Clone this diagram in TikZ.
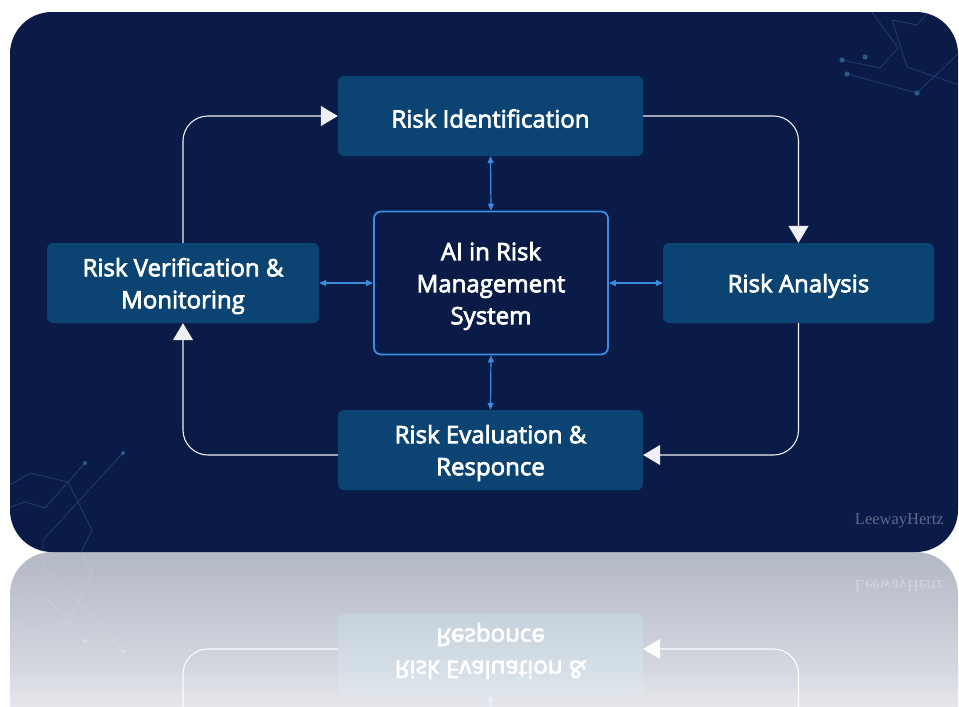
\documentclass[tikz,border=0pt]{standalone}
\usepackage{fontspec}
\setmainfont{Open Sans}
\newfontfamily\boxfont{Open Sans}[FakeBold=3]
\newfontfamily\markfont{Liberation Serif}
\usetikzlibrary{arrows.meta,fadings}

\definecolor{navy}{HTML}{0B1B48}
\definecolor{stepfill}{HTML}{0B4472}
\definecolor{coreblue}{HTML}{3A8EE2}
\definecolor{decoline}{HTML}{223E6E}
\definecolor{decodot}{HTML}{2A5A8C}
\definecolor{marktext}{HTML}{5E6A8C}
\definecolor{flowwhite}{HTML}{EEF0F4}

% fading for the mirrored copy: nearly opaque at the bottom, lighter at the top
\pgfdeclareverticalshading{reflshade}{100bp}{color(0bp)=(white); color(8bp)=(white); color(37bp)=(black!17); color(69bp)=(black!29); color(100bp)=(black!37)}
\pgfdeclarefading{reflfade}{\pgfuseshading{reflshade}}

\tikzset{
  stepbox/.style={fill=stepfill, rounded corners=6pt, inner sep=0pt, minimum height=80pt},
  corebox/.style={draw=coreblue, line width=1.8pt, fill=navy, rounded corners=7pt,
    inner sep=0pt},
  boxtext/.style={text=white, align=center, inner sep=0pt,
    font=\boxfont\fontsize{24}{32}\selectfont},
  flow/.style={draw=flowwhite, line width=1.1pt, rounded corners=25pt,
    -{Triangle[length=17pt,width=20pt]}},
  link/.style={draw=coreblue, line width=1.2pt,
    {Triangle[length=7pt,width=6pt]}-{Triangle[length=7pt,width=6pt]}},
  deco/.style={draw=decoline, line width=0.8pt},
  decodotstyle/.style={fill=decodot},
}

% the whole card: background, ornaments, process boxes and their links
\newcommand\riskcard{%
  \fill[navy, rounded corners=42pt] (10,12) rectangle (958,552);
  \begin{scope}
    \clip[rounded corners=42pt] (10,12) rectangle (958,552);
    % ornament, upper right
    \draw[deco] (872,12) -- (898,48);
    \draw[deco] (892,20) -- (917,25) -- (930,10);
    \draw[deco] (892,20) -- (907,67) -- (959,85);
    \draw[deco] (842,60) -- (880,68) -- (898,48);
    \draw[deco] (847,74) -- (917,93) -- (959,53);
    \fill[decodotstyle] (842,60) circle (2.6);
    \fill[decodotstyle] (865,57) circle (2.6);
    \fill[decodotstyle] (847,74) circle (2.6);
    \fill[decodotstyle] (917,93) circle (2.6);
    % ornament, lower left
    \draw[deco] (5,488) -- (30,473) -- (68,482) -- (92,530) -- (77,560);
    \draw[deco] (5,509) -- (25,502) -- (45,508) -- (85,463);
    \draw[deco] (123,453) -- (43,540) -- (43,560);
    \fill[decodotstyle] (85,463) circle (2);
    \fill[decodotstyle] (123,453) circle (2);
  \end{scope}

  % process boxes
  \node[stepbox, minimum width=305pt] (ident) at (490.5,116) {};
  \node[stepbox, minimum width=272pt] (verif) at (183,283) {};
  \node[stepbox, minimum width=271pt] (anal) at (798.5,283) {};
  \node[stepbox, minimum width=305pt] (evalu) at (490.5,450) {};
  \node[corebox, minimum width=234pt, minimum height=143pt] (core) at (491,283) {};

  % their captions, set a little below the geometric centre
  \node[boxtext] (identtext) at ([yshift=-2.5pt]ident.center) {Risk Identification};
  \node[boxtext] (veriftext) at ([yshift=-3pt]verif.center) {Risk Verification \&\\Monitoring};
  \node[boxtext] (analtext) at ([yshift=-3pt]anal.center) {Risk Analysis};
  \node[boxtext] (evalutext) at ([yshift=-3pt]evalu.center) {Risk Evaluation \&\\Responce};
  \node[boxtext] (coretext) at ([yshift=-3pt]core.center) {AI in Risk\\Management\\System};

  \draw[flow] (verif.north) |- (ident.west);
  \draw[flow] (ident.east) -| (anal.north);
  \draw[flow] (anal.south) |- ([yshift=-5pt]evalu.east);
  \draw[flow] ([yshift=-5pt]evalu.west) -| (verif.south);

  \draw[link] (ident.south) -- (core.north);
  \draw[link] (core.south) -- (evalu.north);
  \draw[link] (verif.east) -- (core.west);
  \draw[link] (core.east) -- (anal.west);

  \node[font=\markfont\fontsize{16.5}{16.5}\selectfont, text=marktext,
    anchor=base east, inner sep=0pt] (brand) at (944,524) {LeewayHertz};
}

\begin{document}
\begin{tikzpicture}[x=1pt,y=-1pt]
  \useasboundingbox (0,0) rectangle (959,707);
  \fill[white] (0,0) rectangle (959,707);

  % mirrored copy under the card
  \begin{scope}
    \clip (0,552) rectangle (959,707);
    \begin{scope}[shift={(0,1104)}, yscale=-1, transform shape, name prefix=mirror-]
      \riskcard
    \end{scope}
    \fill[white, path fading=reflfade] (0,552) rectangle (959,707);
  \end{scope}

  \riskcard
\end{tikzpicture}
\end{document}
